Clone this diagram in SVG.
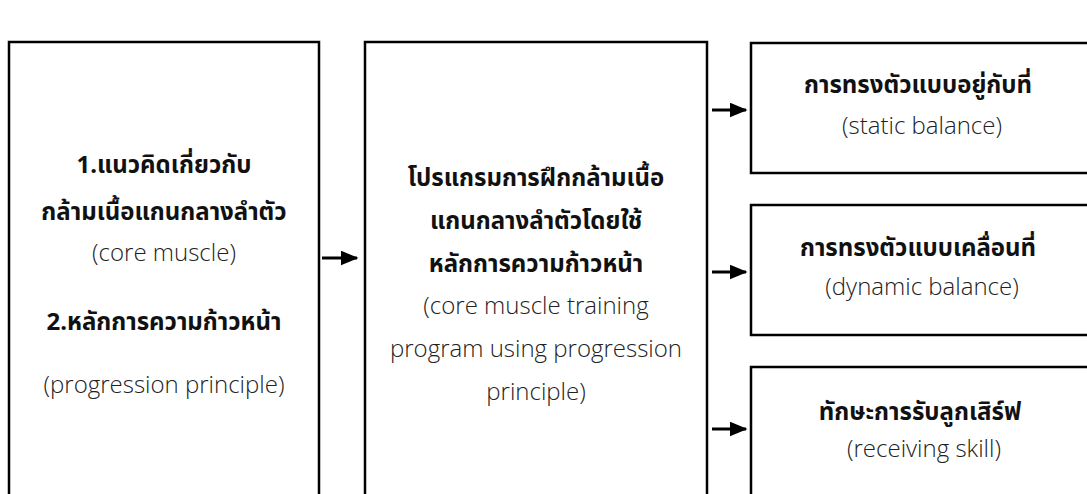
<svg xmlns="http://www.w3.org/2000/svg" width="1087" height="494" viewBox="0 0 1087 494">
<style>
.box{fill:#fff;stroke:#000;stroke-width:2.5}
.th{font-family:"Noto Sans","Noto Sans Thai","Liberation Sans",sans-serif;font-weight:bold;font-size:24px;fill:#111;text-anchor:middle}
.en{font-family:"Open Sans","Noto Sans","Liberation Sans",sans-serif;font-weight:300;font-size:24px;fill:#222;text-anchor:middle}
.ln{stroke:#000;stroke-width:3;fill:none}
</style>
<defs>
<marker id="ah" markerWidth="6" markerHeight="5" refX="5.5" refY="2.5" orient="auto" markerUnits="strokeWidth">
<path d="M0,0 L6,2.5 L0,5 Z" fill="#000"/>
</marker>
</defs>
<rect width="1087" height="494" fill="#fff"/>
<g id="node-concept">
<rect class="box" x="9" y="42" width="310" height="470"/>
<text class="th" x="164" y="173">1.แนวคิดเกี่ยวกับ</text>
<text class="th" x="164" y="220">กล้ามเนื้อแกนกลางลำตัว</text>
<text class="en" x="164" y="261">(core muscle)</text>
<text class="th" x="164" y="330">2.หลักการความก้าวหน้า</text>
<text class="en" x="164" y="393">(progression principle)</text>
</g>
<g id="node-program">
<rect class="box" x="365" y="42" width="342" height="470"/>
<text class="th" x="536" y="186">โปรแกรมการฝึกกล้ามเนื้อ</text>
<text class="th" x="536" y="229">แกนกลางลำตัวโดยใช้</text>
<text class="th" x="536" y="272">หลักการความก้าวหน้า</text>
<text class="en" x="536" y="314">(core muscle training</text>
<text class="en" x="536" y="357">program using progression</text>
<text class="en" x="536" y="400">principle)</text>
</g>
<g id="node-static">
<rect class="box" x="751" y="43" width="350" height="130"/>
<text class="th" x="918" y="93">การทรงตัวแบบอยู่กับที่</text>
<text class="en" x="922" y="134">(static balance)</text>
</g>
<g id="node-dynamic">
<rect class="box" x="751" y="205" width="350" height="130"/>
<text class="th" x="918" y="256">การทรงตัวแบบเคลื่อนที่</text>
<text class="en" x="922" y="295">(dynamic balance)</text>
</g>
<g id="node-receiving">
<rect class="box" x="751" y="367" width="350" height="150"/>
<text class="th" x="920" y="420">ทักษะการรับลูกเสิร์ฟ</text>
<text class="en" x="924" y="457">(receiving skill)</text>
</g>
<g id="connectors">
<line class="ln" x1="322" y1="258" x2="357" y2="258" marker-end="url(#ah)"/>
<line class="ln" x1="712" y1="110" x2="746" y2="110" marker-end="url(#ah)"/>
<line class="ln" x1="712" y1="272" x2="746" y2="272" marker-end="url(#ah)"/>
<line class="ln" x1="712" y1="429" x2="746" y2="429" marker-end="url(#ah)"/>
</g>
</svg>
